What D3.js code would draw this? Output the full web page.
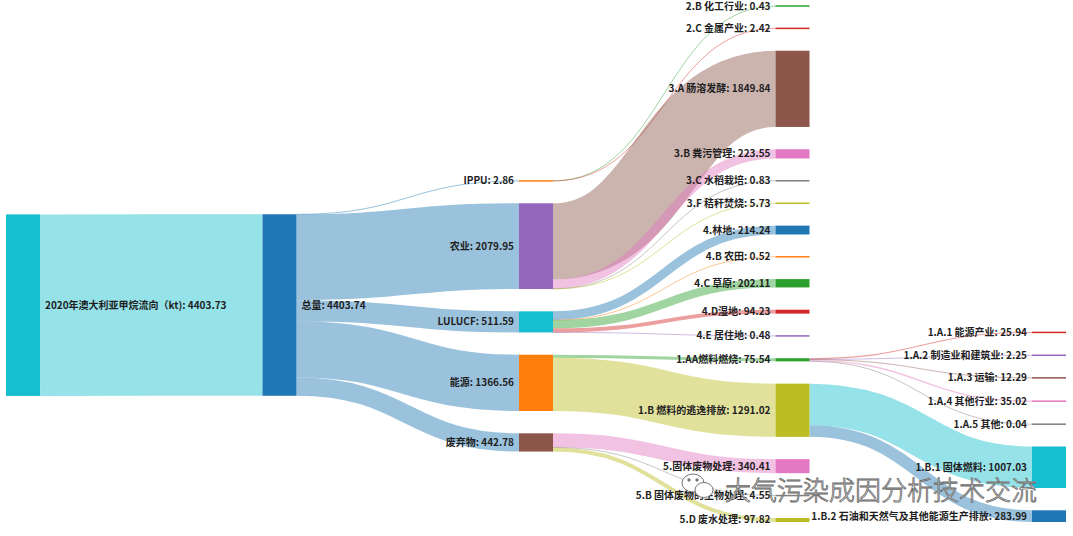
<!DOCTYPE html>
<html lang="zh">
<head>
<meta charset="UTF-8">
<title>2020年澳大利亚甲烷流向</title>
<script src="https://cdn.jsdelivr.net/npm/d3@7"></script>
<style>
	body { margin: 0; background: #fff; }
	.label { font-family: "Noto Sans CJK SC", "Noto Sans", sans-serif; font-size: 10px; font-weight: bold; fill: #1e1e1e; }
	.mark { font-family: "Noto Sans CJK SC", sans-serif; font-size: 26px; font-weight: 300; fill: #fff; stroke: #666; stroke-width: 0.8; }
</style>
</head>
<body>
<script>
// node names, in the order their colours were handed out
var nodeNames = [
	'总量', '能源', '1.AA燃料燃烧',
	'1.A.1 能源产业', '1.A.2 制造业和建筑业', '1.A.3 运输', '1.A.4 其他行业', '1.A.5 其他',
	'1.B 燃料的逃逸排放', '1.B.1 固体燃料', '1.B.2 石油和天然气及其他能源生产排放',
	'IPPU', '2.B 化工行业', '2.C 金属产业',
	'农业', '3.A 肠溶发酵', '3.B 粪污管理', '3.C 水稻栽培', '3.F 秸秆焚烧',
	'LULUCF', '4.林地', '4.B 农田', '4.C 草原', '4.D湿地', '4.E 居住地',
	'废弃物', '5.固体废物处理', '5.B 固体废物的生物处理', '5.D 废水处理',
	'2020年澳大利亚甲烷流向（kt)'
];

// flows: source, target, kt
var flows = [
	['2020年澳大利亚甲烷流向（kt)', '总量', 4403.73],
	['总量', 'IPPU', 2.86],
	['总量', '农业', 2079.95],
	['总量', 'LULUCF', 511.59],
	['总量', '能源', 1366.56],
	['总量', '废弃物', 442.78],
	['IPPU', '2.B 化工行业', 0.43],
	['IPPU', '2.C 金属产业', 2.42],
	['农业', '3.A 肠溶发酵', 1849.84],
	['农业', '3.B 粪污管理', 223.55],
	['农业', '3.C 水稻栽培', 0.83],
	['农业', '3.F 秸秆焚烧', 5.73],
	['LULUCF', '4.林地', 214.24],
	['LULUCF', '4.B 农田', 0.52],
	['LULUCF', '4.C 草原', 202.11],
	['LULUCF', '4.D湿地', 94.23],
	['LULUCF', '4.E 居住地', 0.48],
	['能源', '1.AA燃料燃烧', 75.54],
	['能源', '1.B 燃料的逃逸排放', 1291.02],
	['废弃物', '5.固体废物处理', 340.41],
	['废弃物', '5.B 固体废物的生物处理', 4.55],
	['废弃物', '5.D 废水处理', 97.82],
	['1.AA燃料燃烧', '1.A.1 能源产业', 25.94],
	['1.AA燃料燃烧', '1.A.2 制造业和建筑业', 2.25],
	['1.AA燃料燃烧', '1.A.3 运输', 12.29],
	['1.AA燃料燃烧', '1.A.4 其他行业', 35.02],
	['1.AA燃料燃烧', '1.A.5 其他', 0.04],
	['1.B 燃料的逃逸排放', '1.B.1 固体燃料', 1007.03],
	['1.B 燃料的逃逸排放', '1.B.2 石油和天然气及其他能源生产排放', 283.99]
];

var watermark = '大气污染成因分析技术交流';

window.onload = function () {
	var width = 1073, height = 536;
	var margin = {top: 6, left: 6};
	var innerW = 1060, innerH = 516;
	var nodeW = 34, gap = 22.3, iterations = 160;

	var color = d3.scaleOrdinal(d3.schemeCategory10);
	var fmt = d3.format('.2f');

	var nodes = nodeNames.map(function (name, i) {
		return {name: name, index: i, sourceLinks: [], targetLinks: []};
	});
	var byName = {};
	nodes.forEach(function (n) { byName[n.name] = n; color(n.index); });

	// first appearance in the flow list fixes the order inside each column
	var seen = 0;
	var links = flows.map(function (f) {
		var s = byName[f[0]], t = byName[f[1]];
		if (s.seen === undefined) s.seen = seen++;
		if (t.seen === undefined) t.seen = seen++;
		var l = {source: s, target: t, value: f[2]};
		s.sourceLinks.push(l);
		t.targetLinks.push(l);
		return l;
	});
	var order = nodes.slice().sort(function (a, b) { return a.seen - b.seen; });

	order.forEach(function (n) {
		n.value = Math.max(d3.sum(n.sourceLinks, function (l) { return l.value; }),
			d3.sum(n.targetLinks, function (l) { return l.value; }));
	});

	// layers, left aligned
	var current = new Set(order), next, layer = 0;
	while (current.size) {
		next = new Set();
		current.forEach(function (n) {
			n.layer = layer;
			n.sourceLinks.forEach(function (l) { next.add(l.target); });
		});
		current = next;
		layer++;
	}
	var maxLayer = d3.max(order, function (n) { return n.layer; });
	var x = d3.scaleLinear().domain([0, maxLayer]).range([margin.left, margin.left + innerW - nodeW]);

	var columns = d3.range(maxLayer + 1).map(function (k) {
		return order.filter(function (n) { return n.layer === k; });
	});

	var ky = d3.min(columns, function (c) {
		return (innerH - (c.length - 1) * gap) / d3.sum(c, function (n) { return n.value; });
	});
	var h = d3.scaleLinear().domain([0, 1]).range([0, ky]);

	columns.forEach(function (col) {
		col.forEach(function (n, i) { n.y = i; n.dy = h(n.value); });
	});
	links.forEach(function (l) { l.dy = h(l.value); });

	function center(n) { return n.y + n.dy / 2; }
	function val(l) { return l.value; }

	// stack down in the given order, push back up if the column runs over
	function resolveCollisions() {
		columns.forEach(function (col) {
			var y0 = 0, n = col.length, node, d, i;
			for (i = 0; i < n; i++) {
				node = col[i];
				d = y0 - node.y;
				if (d > 0) node.y += d;
				y0 = node.y + node.dy + gap;
			}
			d = y0 - gap - innerH;
			if (d > 0) {
				node.y -= d;
				y0 = node.y;
				for (i = n - 2; i >= 0; i--) {
					node = col[i];
					d = node.y + node.dy + gap - y0;
					if (d > 0) node.y -= d;
					y0 = node.y;
				}
			}
		});
	}

	function relaxRightToLeft(alpha) {
		columns.slice().reverse().forEach(function (col) {
			col.forEach(function (n) {
				if (!n.sourceLinks.length) return;
				var y = d3.sum(n.sourceLinks, function (l) { return center(l.target) * l.value; }) / d3.sum(n.sourceLinks, val);
				n.y += (y - center(n)) * alpha;
			});
		});
	}

	function relaxLeftToRight(alpha) {
		columns.forEach(function (col) {
			col.forEach(function (n) {
				if (!n.targetLinks.length) return;
				var y = d3.sum(n.targetLinks, function (l) { return center(l.source) * l.value; }) / d3.sum(n.targetLinks, val);
				n.y += (y - center(n)) * alpha;
			});
		});
	}

	resolveCollisions();
	for (var alpha = 1, it = iterations; it > 0; --it) {
		relaxRightToLeft(alpha *= 0.99);
		resolveCollisions();
		relaxLeftToRight(alpha);
		resolveCollisions();
	}

	order.forEach(function (n) {
		n.sourceLinks.sort(function (a, b) { return a.target.y - b.target.y; });
		n.targetLinks.sort(function (a, b) { return a.source.y - b.source.y; });
	});
	order.forEach(function (n) {
		n.x0 = x(n.layer);
		n.x1 = n.x0 + nodeW;
		n.y0 = margin.top + n.y;
		n.y1 = n.y0 + n.dy;
		var sy = n.y0, ty = n.y0;
		n.sourceLinks.forEach(function (l) { l.y0 = sy + l.dy / 2; sy += l.dy; });
		n.targetLinks.forEach(function (l) { l.y1 = ty + l.dy / 2; ty += l.dy; });
	});

	var linkPath = d3.linkHorizontal()
		.source(function (l) { return [l.source.x1, l.y0]; })
		.target(function (l) { return [l.target.x0, l.y1]; });

	var svg = d3.select('body').append('svg')
		.attr('width', width)
		.attr('height', height);

	svg.append('g')
		.attr('fill', 'none')
		.selectAll('path')
		.data(links)
		.enter().append('path')
		.attr('d', linkPath)
		.attr('stroke', function (l) {
			return color(l.source.layer < 2 ? l.source.index : l.target.index);
		})
		.attr('stroke-opacity', 0.45)
		.attr('stroke-width', function (l) { return Math.max(1, l.dy); });

	svg.append('g').selectAll('rect')
		.data(order)
		.enter().append('rect')
		.attr('x', function (n) { return n.x0; })
		.attr('y', function (n) { return n.dy < 1.5 ? n.y0 + n.dy / 2 - 0.75 : n.y0; })
		.attr('width', nodeW)
		.attr('height', function (n) { return Math.max(n.dy, 1.5); })
		.attr('fill', function (n) { return color(n.index); });

	svg.append('g').selectAll('text')
		.data(order)
		.enter().append('text')
		.attr('class', 'label')
		.attr('x', function (n) { return n.layer < 2 ? n.x1 + 5 : n.x0 - 5; })
		.attr('y', function (n) { return (n.y0 + n.y1) / 2; })
		.attr('dy', '0.35em')
		.attr('text-anchor', function (n) { return n.layer < 2 ? 'start' : 'end'; })
		.text(function (n) { return n.name + ': ' + fmt(n.value); });

	// watermark of the source account
	var wm = svg.append('g').attr('fill', '#fff').attr('stroke', '#777').attr('stroke-width', 1);
	wm.append('ellipse').attr('cx', 693).attr('cy', 483).attr('rx', 11).attr('ry', 9);
	wm.append('ellipse').attr('cx', 704).attr('cy', 490).attr('rx', 9).attr('ry', 7.5);
	wm.append('circle').attr('cx', 689).attr('cy', 480).attr('r', 1.2).attr('fill', '#777');
	wm.append('circle').attr('cx', 697).attr('cy', 480).attr('r', 1.2).attr('fill', '#777');
	svg.append('text')
		.attr('class', 'mark')
		.attr('x', 725)
		.attr('y', 500)
		.text(watermark);
};
</script>
</body>
</html>
